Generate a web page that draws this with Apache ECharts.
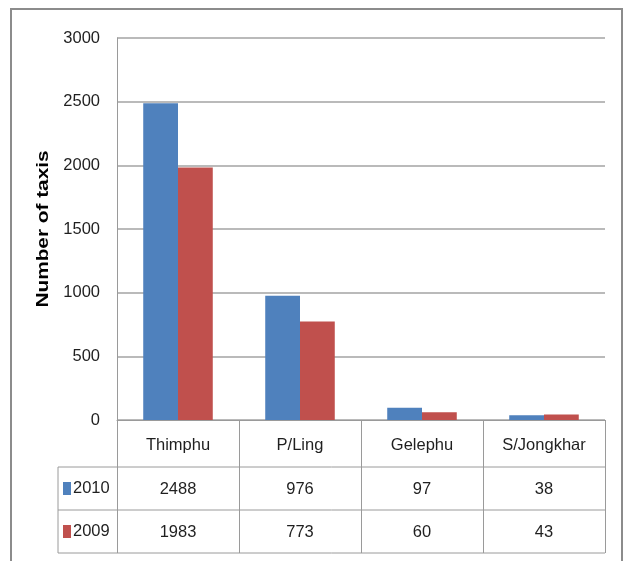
<!DOCTYPE html>
<html>
<head>
<meta charset="utf-8">
<script src="https://cdn.jsdelivr.net/npm/echarts@6/dist/echarts.min.js"></script>
<style>
html,body{margin:0;padding:0;background:#fff;}
#main{width:623px;height:561px;}
</style>
</head>
<body>
<div id="main"></div>
<script>
const categories = ['Thimphu', 'P/Ling', 'Gelephu', 'S/Jongkhar'];
const seriesNames = ['2010', '2009'];
const values2010 = [2488, 976, 97, 38];
const values2009 = [1983, 773, 60, 43];
const colors = ['#4F81BD', '#C0504D'];
const yMin = 0, yMax = 3000, yStep = 500;
const yTitle = 'Number of taxis';

const FONT = '"Liberation Sans", Arial, sans-serif';
const FS = 16.5;
const GRID = {left: 117, right: 18, top: 38, bottom: 141};
const TABLE = {left: 58, right: 605, rowLines: [467, 510, 553], rowCenters: [489, 532]};
const LINE = '#9a9a9a';
const TXT = '#1f1f1f';

const chart = echarts.init(document.getElementById('main'));
const option = {
  animation: false,
  backgroundColor: '#fff',
  color: colors,
  grid: GRID,
  legend: {
    data: seriesNames,
    orient: 'vertical',
    left: 63, top: 480,
    itemWidth: 8, itemHeight: 13, itemGap: 26,
    icon: 'rect',
    padding: 0,
    textStyle: {fontFamily: FONT, fontSize: FS, color: TXT, padding: [0, 0, 0, -3]}
  },
  xAxis: {
    type: 'category',
    data: categories,
    axisLine: {lineStyle: {color: LINE, width: 1}},
    axisTick: {show: true, length: 133, lineStyle: {color: LINE, width: 1}},
    axisLabel: {fontFamily: FONT, fontSize: FS, color: TXT, margin: 17}
  },
  yAxis: {
    type: 'value',
    min: yMin, max: yMax, interval: yStep,
    axisLine: {show: true, lineStyle: {color: LINE, width: 1}},
    axisTick: {show: false},
    axisLabel: {fontFamily: FONT, fontSize: FS, color: TXT, margin: 17, formatter: v => String(v)},
    splitLine: {lineStyle: {color: '#a3a3a3', width: 1.6}}
  },
  series: [
    {name: seriesNames[0], type: 'bar', data: values2010, barGap: '0%', barCategoryGap: '43%'},
    {name: seriesNames[1], type: 'bar', data: values2009, barGap: '0%', barCategoryGap: '43%'}
  ]
};
chart.setOption(option);

const g = [];
// outer frame
g.push({type: 'rect', shape: {x: 11, y: 9, width: 611, height: 600}, style: {fill: 'none', stroke: '#8c8c8c', lineWidth: 2}, silent: true});
// table lines
TABLE.rowLines.forEach(y => {
  g.push({type: 'line', shape: {x1: TABLE.left, y1: y, x2: TABLE.right, y2: y}, style: {stroke: LINE, lineWidth: 1}, silent: true});
});
g.push({type: 'line', shape: {x1: TABLE.left, y1: TABLE.rowLines[0], x2: TABLE.left, y2: TABLE.rowLines[2]}, style: {stroke: LINE, lineWidth: 1}, silent: true});
// table values
[values2010, values2009].forEach((vals, r) => {
  vals.forEach((v, i) => {
    const x = chart.convertToPixel({xAxisIndex: 0}, categories[i]);
    g.push({type: 'text', x: x, y: TABLE.rowCenters[r], silent: true,
      style: {text: String(v), textAlign: 'center', textVerticalAlign: 'middle', fontFamily: FONT, fontSize: FS, fill: TXT}});
  });
});
// y axis title
g.push({type: 'text', x: 44, y: 229, rotation: Math.PI / 2, scaleX: 1.3, silent: true,
  style: {text: yTitle, textAlign: 'center', textVerticalAlign: 'middle', fontFamily: FONT, fontWeight: 'bold', fontSize: 16, fill: '#000'}});
chart.setOption({graphic: g});
</script>
</body>
</html>
